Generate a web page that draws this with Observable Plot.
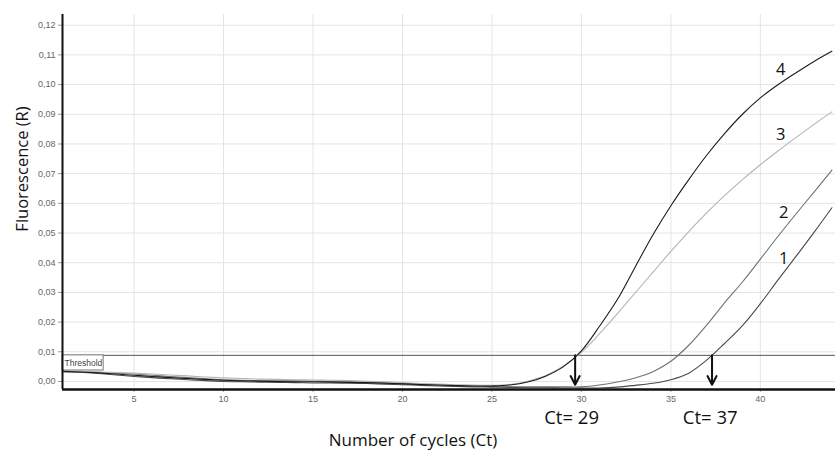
<!DOCTYPE html>
<html><head><meta charset="utf-8">
<script src="https://cdn.jsdelivr.net/npm/d3@7"></script>
<script src="https://cdn.jsdelivr.net/npm/@observablehq/plot@0.6"></script>
<style>body{margin:0;background:#fff} #chart svg{display:block}</style>
</head><body><div id="chart"></div><script>
const cycles = [1,2,3,4,5,6,7,8,9,10,11,12,13,14,15,16,17,18,19,20,21,22,23,24,25,26,27,28,29,30,31,32,33,34,35,36,37,38,39,40,41,42,43,44];
const curve4 = [0.0034,0.0032,0.0029,0.0025,0.0021,0.0017,0.0013,0.0010,0.0007,0.0004,0.0002,0.0001,0.0000,-0.0001,-0.0001,-0.0002,-0.0003,-0.0004,-0.0006,-0.0008,-0.0010,-0.0012,-0.0014,-0.0015,-0.0015,-0.0012,-0.0002,0.0018,0.0050,0.0103,0.0185,0.0275,0.0385,0.0494,0.0592,0.0680,0.0762,0.0835,0.0900,0.0955,0.1000,0.1040,0.1078,0.1112];
const curve3 = [0.0035,0.0034,0.0032,0.0030,0.0028,0.0025,0.0022,0.0019,0.0015,0.0012,0.0010,0.0008,0.0007,0.0006,0.0005,0.0004,0.0003,0.0001,-0.0001,-0.0004,-0.0007,-0.0009,-0.0011,-0.0012,-0.0013,-0.0010,0.0001,0.0020,0.0052,0.0098,0.0160,0.0228,0.0298,0.0368,0.0438,0.0505,0.0568,0.0626,0.0680,0.0730,0.0777,0.0822,0.0866,0.0908];
const curve2 = [0.0034,0.0033,0.0031,0.0028,0.0025,0.0021,0.0017,0.0013,0.0009,0.0006,0.0004,0.0003,0.0002,0.0002,0.0001,0.0000,-0.0001,-0.0002,-0.0004,-0.0007,-0.0010,-0.0012,-0.0014,-0.0016,-0.0017,-0.0018,-0.0018,-0.0018,-0.0018,-0.0018,-0.0012,-0.0002,0.0012,0.0033,0.0068,0.0122,0.0190,0.0265,0.0335,0.0412,0.0490,0.0565,0.0638,0.0712];
const curve1 = [0.0033,0.0031,0.0027,0.0022,0.0017,0.0013,0.0009,0.0006,0.0003,0.0000,-0.0001,-0.0002,-0.0003,-0.0004,-0.0005,-0.0005,-0.0006,-0.0007,-0.0009,-0.0011,-0.0013,-0.0015,-0.0017,-0.0018,-0.0019,-0.0020,-0.0021,-0.0021,-0.0022,-0.0022,-0.0022,-0.0019,-0.0013,-0.0006,0.0006,0.0028,0.0072,0.0128,0.0188,0.0262,0.0343,0.0422,0.0502,0.0585];

const threshold = 0.0088;
const xTicks = [5,10,15,20,25,30,35,40];
const yTicks = [0,0.01,0.02,0.03,0.04,0.05,0.06,0.07,0.08,0.09,0.10,0.11,0.12];
const ctValues = [29.65, 37.3];
const ctLabels = ["Ct= 29", "Ct= 37"];
const ctLabelX = [29.45, 37.2];
const curveNames = ["4","3","2","1"];
const curveLabelX = [41.14, 41.14, 41.3, 41.3];
const curveLabelY = [0.105, 0.0832, 0.0569, 0.0414];

const series = [
  {name: "2", values: curve2, color: "#707070"},
  {name: "1", values: curve1, color: "#4a4a4a"},
  {name: "3", values: curve3, color: "#b4b4b4"},
  {name: "4", values: curve4, color: "#1a1a1a"}
];
const fmt = d => d.toFixed(2).replace(".", ",");
const yMin = -0.0027, yMax = 0.1236;

const lineMarks = series.map(s => Plot.line(cycles.map((c, i) => ({cycle: c, value: s.values[i]})), {
  x: "cycle", y: "value", stroke: s.color, strokeWidth: 1.1, curve: "catmull-rom"
}));

const chart = Plot.plot({
  width: 835, height: 461,
  marginLeft: 62, marginRight: 0, marginTop: 14, marginBottom: 72,
  style: {fontFamily: "'Liberation Sans', Arial, sans-serif", background: "#fff", overflow: "visible"},
  x: {domain: [1, 44.2]},
  y: {domain: [yMin, yMax]},
  marks: [
    Plot.gridX(xTicks, {stroke: "#e4e4e4", strokeOpacity: 1}),
    Plot.gridY(yTicks, {stroke: "#e4e4e4", strokeOpacity: 1}),
    Plot.axisX(xTicks, {tickSize: 3, tickPadding: 3, fontSize: 9, fill: "#666", stroke: "#aaa", label: null, tickFormat: d => String(d)}),
    Plot.axisY(yTicks, {tickSize: 4, tickPadding: 3, fontSize: 9, fill: "#666", stroke: "#999", label: null, tickFormat: fmt}),
    Plot.ruleY([threshold], {stroke: "#555", strokeWidth: 1}),
    ...lineMarks,
    Plot.rect([{x1: 1, x2: 3.3, y1: threshold, y2: 0.0037}], {x1: "x1", x2: "x2", y1: "y1", y2: "y2", fill: "white", stroke: "#777", strokeWidth: 1}),
    Plot.text(["Threshold"], {x: () => 1, y: () => (threshold + 0.0037) / 2, text: d => d, dx: 2, textAnchor: "start", fontSize: 8.5, fill: "#444"}),
    Plot.ruleX([1], {stroke: "#111", strokeWidth: 2}),
    Plot.ruleY([yMin], {stroke: "#111", strokeWidth: 2.5}),
    Plot.arrow(ctValues, {x1: d => d, x2: d => d, y1: () => threshold, y2: () => -0.0011, stroke: "#111", strokeWidth: 2, headLength: 14, headAngle: 55}),
    Plot.text(ctLabels, {x: (d, i) => ctLabelX[i], y: () => -0.0123, text: d => d, fontSize: 18.5, fontFamily: "'Open Sans', sans-serif", fill: "#111"}),
    Plot.text(curveNames, {x: (d, i) => curveLabelX[i], y: (d, i) => curveLabelY[i], text: d => d, fontSize: 16.5, fontFamily: "'Open Sans', sans-serif", fill: "#111"}),
    Plot.text(["Fluorescence (R)"], {frameAnchor: "left", text: d => d, rotate: -90, textAnchor: "middle", lineAnchor: "middle", dx: -40, dy: -33, fontSize: 16.5, fontFamily: "'Open Sans', sans-serif", fill: "#111"}),
    Plot.text(["Number of cycles (Ct)"], {frameAnchor: "bottom", text: d => d, textAnchor: "middle", lineAnchor: "middle", dx: -36, dy: 51, fontSize: 17, fontFamily: "'Open Sans', sans-serif", fill: "#111"})
  ]
});
document.getElementById("chart").appendChild(chart);
</script></body></html>
